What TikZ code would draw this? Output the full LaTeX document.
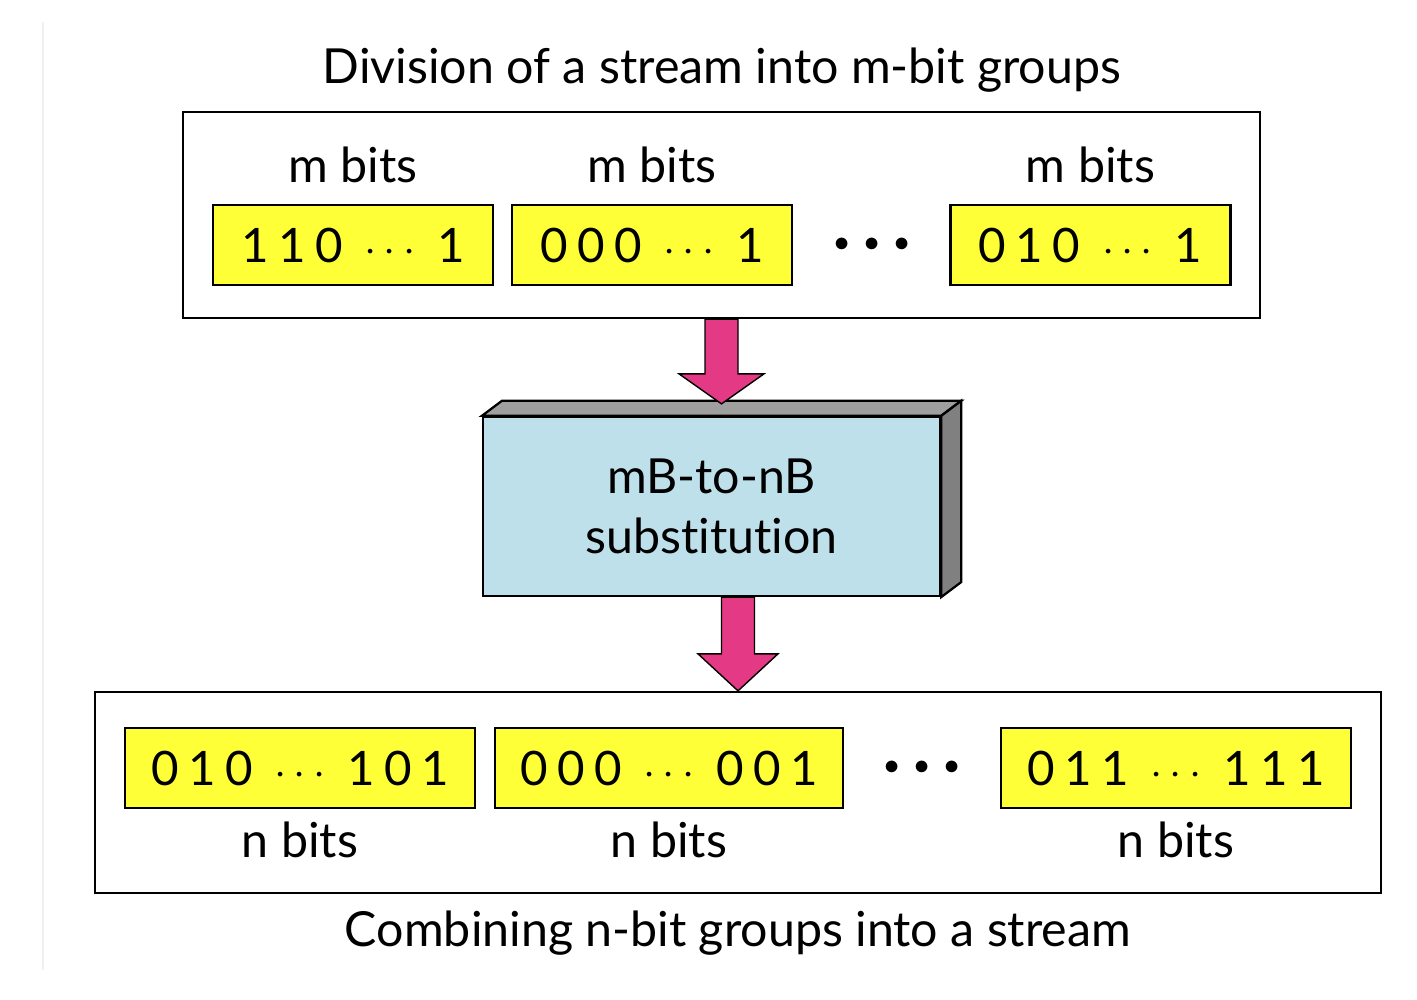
\documentclass[tikz,border=0pt]{standalone}
\usepackage{fontspec}
\setmainfont[Ligatures=NoCommon]{Lato}
\newfontfamily\bitfont[LetterSpace=20]{Lato}
\usetikzlibrary{positioning, calc}

\definecolor{bityellow}{HTML}{FFFF38}
\definecolor{subblue}{HTML}{BDE0EB}
\definecolor{arrowpink}{HTML}{E43A85}

\tikzset{
  frame/.style={draw, line width=1.3pt, fill=white},
  bitbox/.style={draw, line width=1.4pt, fill=bityellow, minimum height=1.6cm,
                 font=\fontsize{27}{30}\selectfont\bitfont},
  subbox/.style={draw, line width=1.3pt, fill=subblue, align=center,
                 font=\fontsize{27.5}{34}\selectfont},
  boxtop/.style={draw, line width=1.3pt, fill=gray!75},
  boxside/.style={draw, line width=1.3pt, fill=gray},
  bigdots/.style={font=\fontsize{19}{22}\selectfont},
  fatarrow/.style={fill=arrowpink, draw=black, line width=0.8pt}
}

\newcommand{\fatarrow}[4]{% tail, tip, head length, head half width
  \draw[fatarrow] ($(#1)+(-0.33,0)$) -- ($(#2)+(-0.33,#3)$) -- ($(#2)+(-#4,#3)$)
    -- (#2) -- ($(#2)+(#4,#3)$) -- ($(#2)+(0.33,#3)$) -- ($(#1)+(0.33,0)$) -- cycle;}

\begin{document}
\begin{tikzpicture}[font=\fontsize{27.5}{32}\selectfont]
\useasboundingbox (0,0) rectangle (28.34,20);
\draw[gray!12, line width=1.2pt] (0.86,0.6) -- (0.86,19.56);

% top: m-bit groups
\node (toptitle) at (14.44,18.6) {Division of a stream into m-bit groups};
\node[frame, minimum width=21.54cm, minimum height=4.12cm] (top) at (14.43,15.70) {};
\foreach \name/\x/\bits in {m1/7.06/110 $\cdots$ 1, m2/13.04/000 $\cdots$ 1,
                            m3/21.81/010 $\cdots$ 1}{
    \node[bitbox, minimum width=5.6cm] (\name) at (\x,15.1) {\bits};
    \node[above=0.3cm of \name] (\name-lbl) {m bits};
}
\node[bigdots] (mdots) at (17.44,15.1) {$\bullet\mkern5mu\bullet\mkern5mu\bullet$};

% substitution block
\node[subbox, minimum width=9.14cm, minimum height=3.58cm] (sub) at (14.23,9.87)
    {mB-to-nB\\substitution};
\draw[boxtop] (sub.north west) -- ++(0.4,0.3) -- ($(sub.north east)+(0.4,0.3)$)
    -- (sub.north east) -- cycle;
\draw[boxside] (sub.north east) -- ++(0.4,0.3) -- ($(sub.south east)+(0.4,0.3)$)
    -- (sub.south east) -- cycle;

% bottom: n-bit groups
\node[frame, minimum width=25.72cm, minimum height=4.02cm] (bot) at (14.76,4.15) {};
\foreach \name/\x/\w/\bits in {n1/6.0/7.0/010 $\cdots$ 101, n2/13.38/6.96/000 $\cdots$ 001,
                               n3/23.52/7.0/011 $\cdots$ 111}{
    \node[bitbox, minimum width=\w cm] (\name) at (\x,4.64) {\bits};
    \node[below=0.12cm of \name] (\name-lbl) {n bits};
}
\node[bigdots] (ndots) at (18.44,4.64) {$\bullet\mkern5mu\bullet\mkern5mu\bullet$};
\node (bottitle) at (14.76,1.34) {Combining n-bit groups into a stream};

% arrows
\coordinate (tip1) at ($(top.south |- sub.north)+(0,0.24)$);
\coordinate (tail2) at (sub.south -| bot.north);
\fatarrow{top.south}{tip1}{0.6}{0.85}
\fatarrow{tail2}{bot.north}{0.74}{0.8}
\end{tikzpicture}
\end{document}
